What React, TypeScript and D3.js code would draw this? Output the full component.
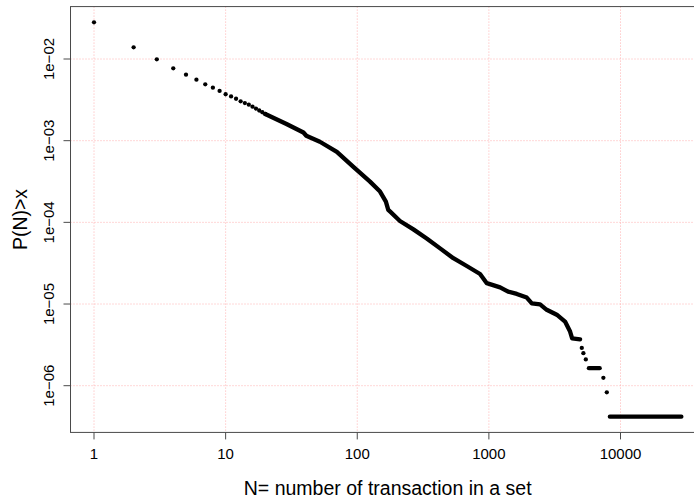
import * as d3 from 'd3'

// N = 1..20 plotted as separate dots
const sparseN = [1, 2, 3, 4, 5, 6, 7, 8, 9, 10, 11, 12, 13, 14, 15, 16, 17, 18, 19, 20]
const sparseP = [0.0281, 0.0139, 0.00991, 0.00769, 0.00643, 0.00558, 0.0049, 0.00446, 0.00406, 0.0037,
    0.00348, 0.00326, 0.00303, 0.00289, 0.00276, 0.00261, 0.00247, 0.00234, 0.00223, 0.00212]

// dense part, where the dots run together into a thick line
const curveN = [20, 29, 39, 41, 52, 70, 93, 125, 149, 165, 172, 178, 211, 267, 337, 426, 537, 679, 857,
    964, 1217, 1400, 1630, 1940, 2120, 2450, 2750, 3280, 3790, 4140, 4290, 4930]
const curveP = [0.00212, 0.0016, 0.00126, 0.00115, 0.00097, 0.00073, 0.00048, 0.000315, 0.000238, 0.000179,
    0.000142, 0.000135, 0.000104, 8.2e-5, 6.35e-5, 4.8e-5, 3.64e-5, 2.92e-5, 2.33e-5,
    1.8e-5, 1.6e-5, 1.42e-5, 1.33e-5, 1.2e-5, 1.02e-5, 9.9e-6, 8.5e-6, 7.4e-6, 6.1e-6, 4.6e-6, 3.8e-6, 3.7e-6]

// loose dots in the tail
const tailN = [5080, 5225, 5450, 7410, 7870]
const tailP = [2.9e-6, 2.5e-6, 2.1e-6, 1.25e-6, 8.3e-7]

// runs of equal values in the tail
const runStart = [5750, 8300]
const runEnd = [6950, 29000]
const runP = [1.64e-6, 4.18e-7]

const xTicks = [1, 10, 100, 1000, 10000]
const xTickLabels = ['1', '10', '100', '1000', '10000']
const yTicks = [1e-2, 1e-3, 1e-4, 1e-5, 1e-6]
const yTickLabels = ['1e\u221202', '1e\u221203', '1e\u221204', '1e\u221205', '1e\u221206']

const xTitle = 'N= number of transaction in a set'
const yTitle = 'P(N)>x'

const W = 694
const H = 502
const font = '"Liberation Sans", Arial, Helvetica, sans-serif'
const r = 2.15

export default function App() {
    const x = d3.scaleLog().domain([1, 10000]).range([94, 620.5])
    const y = d3.scaleLog().domain([1e-2, 1e-6]).range([59, 385.7])

    // R style box: data range plus 4% on each side
    const allN = [...sparseN, ...curveN, ...tailN, ...runStart, ...runEnd]
    const allP = [...sparseP, ...curveP, ...tailP, ...runP]
    const [nLo, nHi] = d3.extent(allN) as [number, number]
    const [pLo, pHi] = d3.extent(allP) as [number, number]
    const padN = (Math.log10(nHi) - Math.log10(nLo)) * 0.04
    const padP = (Math.log10(pHi) - Math.log10(pLo)) * 0.04
    const left = x(Math.pow(10, Math.log10(nLo) - padN))
    const right = x(Math.pow(10, Math.log10(nHi) + padN))
    const top = y(Math.pow(10, Math.log10(pHi) + padP))
    const bottom = y(Math.pow(10, Math.log10(pLo) - padP))

    const line = d3.line<number>()
        .x(i => x(curveN[i]))
        .y(i => y(curveP[i]))

    const grid = '#ffb0b0'

    return (
        <div style={{ position: 'fixed', left: 0, top: 0 }}>
            <svg width={W} height={H} style={{ display: 'block', background: '#fff' }} fontFamily={font}>
                {/* grid */}
                {xTicks.map(t => (
                    <line key={'gx' + t} x1={x(t)} x2={x(t)} y1={top} y2={bottom}
                        stroke={grid} strokeWidth={1} strokeDasharray='1,2' />
                ))}
                {yTicks.map(t => (
                    <line key={'gy' + t} x1={left} x2={right} y1={y(t)} y2={y(t)}
                        stroke={grid} strokeWidth={1} strokeDasharray='1,2' />
                ))}

                {/* points */}
                {sparseN.map((n, i) => (
                    <circle key={'s' + n} cx={x(n)} cy={y(sparseP[i])} r={r} fill='#000' />
                ))}
                <path d={line(d3.range(curveN.length)) || ''} fill='none' stroke='#000'
                    strokeWidth={r * 2} strokeLinejoin='round' strokeLinecap='round' />
                {tailN.map((n, i) => (
                    <circle key={'t' + n} cx={x(n)} cy={y(tailP[i])} r={r} fill='#000' />
                ))}
                {runStart.map((n, i) => (
                    <line key={'r' + n} x1={x(n)} x2={x(runEnd[i])} y1={y(runP[i])} y2={y(runP[i])}
                        stroke='#000' strokeWidth={r * 2} strokeLinecap='round' />
                ))}

                {/* box */}
                <rect x={left} y={top} width={right - left} height={bottom - top}
                    fill='none' stroke='#4a4a4a' strokeWidth={1} />

                {/* x axis */}
                {xTicks.map((t, i) => (
                    <g key={'xt' + t}>
                        <line x1={x(t)} x2={x(t)} y1={bottom} y2={bottom + 7} stroke='#4a4a4a' />
                        <text x={x(t)} y={bottom + 27} textAnchor='middle' fontSize={15} fill='#000'>
                            {xTickLabels[i]}
                        </text>
                    </g>
                ))}

                {/* y axis */}
                {yTicks.map((t, i) => (
                    <g key={'yt' + t}>
                        <line x1={left - 7} x2={left} y1={y(t)} y2={y(t)} stroke='#4a4a4a' />
                        <text transform={`translate(${left - 17},${y(t)}) rotate(-90)`}
                            textAnchor='middle' fontSize={15} fill='#000'>
                            {yTickLabels[i]}
                        </text>
                    </g>
                ))}

                <text x={(left + right) / 2} y={495} textAnchor='middle' fontSize={19.5} fill='#000'>
                    {xTitle}
                </text>
                <text transform={`translate(27,${(top + bottom) / 2}) rotate(-90)`}
                    textAnchor='middle' fontSize={19.5} fill='#000'>
                    {yTitle}
                </text>
            </svg>
        </div>
    )
}
